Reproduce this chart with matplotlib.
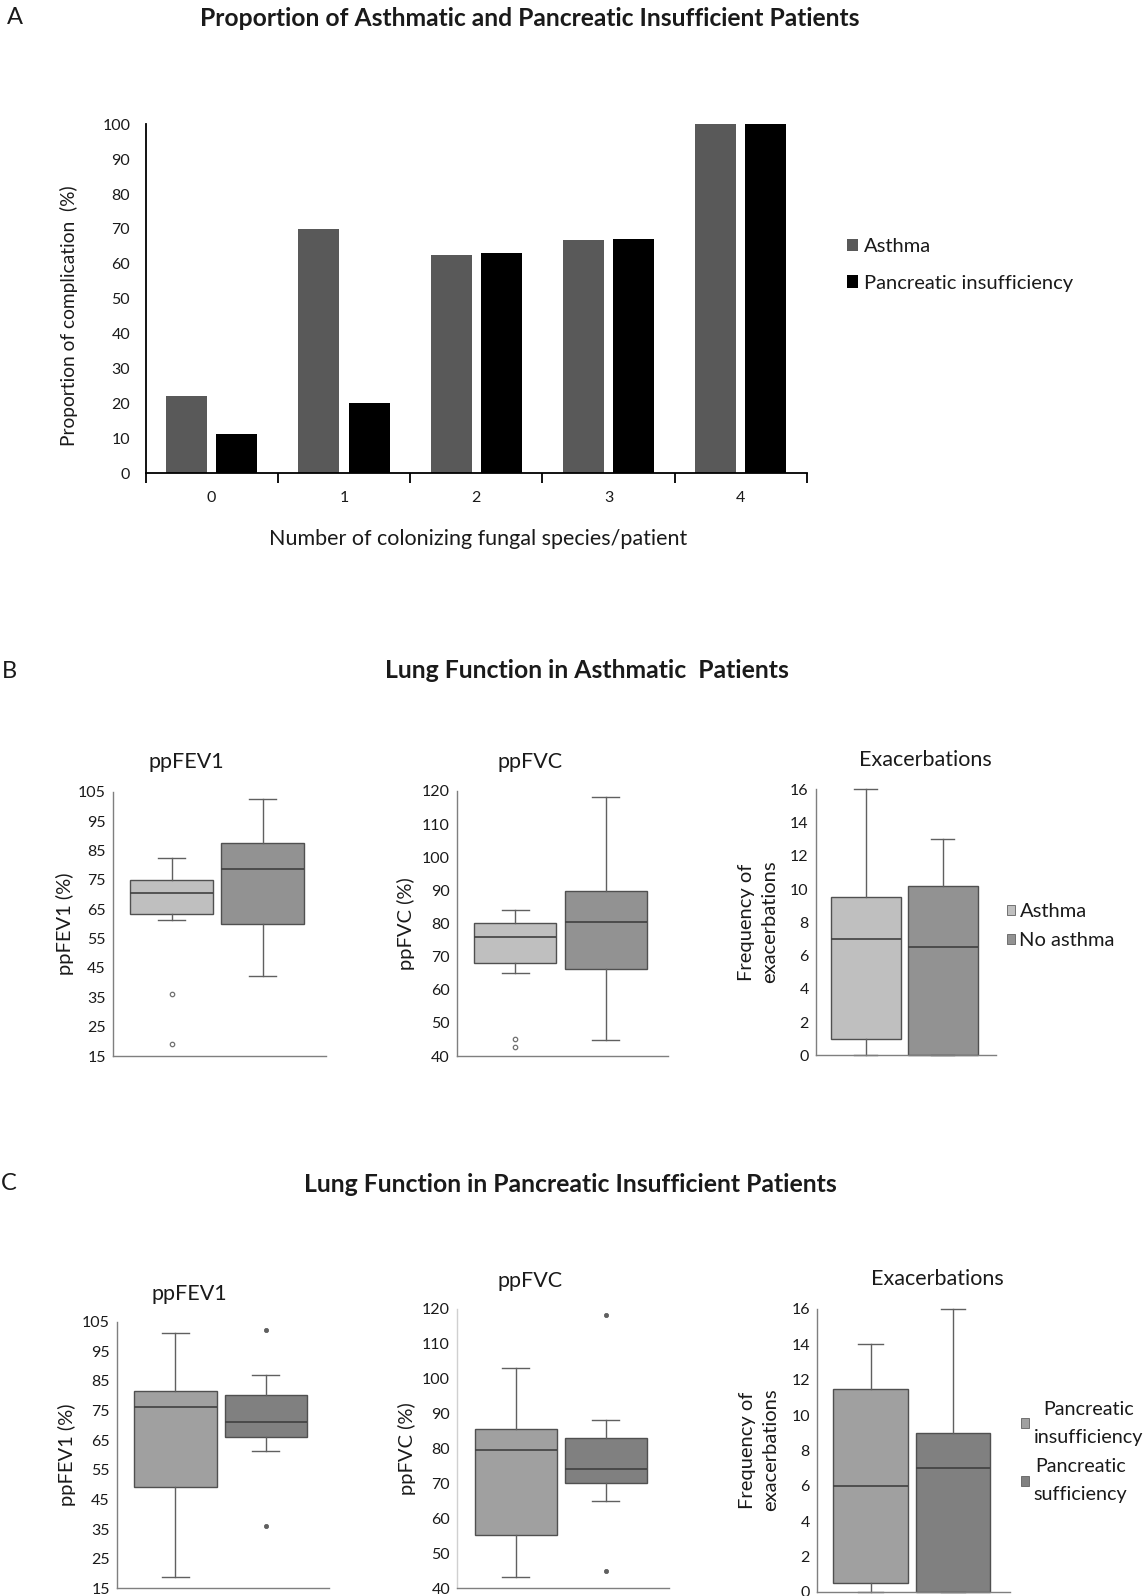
import numpy as np
import matplotlib
matplotlib.use("Agg")
import matplotlib.pyplot as plt
from matplotlib.patches import Patch

# ---------------- data ----------------
cats_A = ['0', '1', '2', '3', '4']
asthma_pct = [22, 70, 62.5, 66.7, 100]
pi_pct = [11.1, 20, 63, 67, 100]
series_A = ['Asthma', 'Pancreatic insufficiency']

# box stats: [whislo, q1, median, q3, whishi]
fev1_B_asthma = [61.4, 63.5, 70.4, 74.8, 82.5]
fev1_B_asthma_out = [36.1, 19.1]
fev1_B_noasthma = [42.1, 60.0, 78.6, 87.4, 102.6]
fev1_B_noasthma_out = []
fvc_B_asthma = [65.1, 68.2, 76.0, 80.0, 84.1]
fvc_B_asthma_out = [45.2, 42.8]
fvc_B_noasthma = [44.9, 66.4, 80.5, 89.9, 118.3]
fvc_B_noasthma_out = []
exac_B_asthma = [0, 1.0, 7.0, 9.5, 16.0]
exac_B_asthma_out = []
exac_B_noasthma = [0, 0, 6.5, 10.2, 13.0]
exac_B_noasthma_out = []
groups_B = ['Asthma', 'No asthma']

fev1_C_pi = [18.9, 49.1, 76.1, 81.6, 101.3]
fev1_C_pi_out = []
fev1_C_ps = [61.2, 66.2, 71.2, 80.4, 87.1]
fev1_C_ps_out = [102.3, 36.0]
fvc_C_pi = [43.1, 55.2, 79.6, 85.6, 103.2]
fvc_C_pi_out = []
fvc_C_ps = [65.1, 70.1, 74.1, 83.1, 88.1]
fvc_C_ps_out = [118.2, 45.0]
exac_C_pi = [0, 0.5, 6.0, 11.5, 14.0]
exac_C_pi_out = []
exac_C_ps = [0, 0, 7.0, 9.0, 16.0]
exac_C_ps_out = []
groups_C = ['Pancreatic\ninsufficiency', 'Pancreatic\nsufficiency']

fev1_ticks = list(range(15, 106, 10))
fvc_ticks = list(range(40, 121, 10))
exac_ticks = list(range(0, 17, 2))

# ---------------- layout helpers ----------------
W, H = 1148, 1596
plt.rcParams['font.family'] = ['Lato', 'DejaVu Sans']
TXT = '#1a1a1a'
fig = plt.figure(figsize=(W / 100, H / 100), dpi=100)
renderer = fig.canvas.get_renderer()


def add_ax(l, t, r, b):
    return fig.add_axes([l / W, 1 - b / H, (r - l) / W, (b - t) / H])


def ftext(x, y, s, **kw):
    kw.setdefault('color', TXT)
    return fig.text(x / W, 1 - y / H, s, **kw)


def fit(t, target_w):
    w = t.get_window_extent(renderer).width
    t.set_fontsize(t.get_fontsize() * target_w / w)


# ---------------- Panel A ----------------
ftext(15, 18, 'A', fontsize=17, ha='center', va='center')
tA = ftext(530, 18, 'Proportion of Asthmatic and Pancreatic Insufficient Patients',
           fontsize=15, fontweight='bold', ha='center', va='center')
fit(tA, 660)

axA = add_ax(145.5, 124.2, 807, 473.2)
x = np.arange(len(cats_A))
axA.bar(x - 0.19, asthma_pct, width=0.31, color='#595959', label=series_A[0])
axA.bar(x + 0.19, pi_pct, width=0.31, color='#000000', label=series_A[1])
axA.set_xlim(-0.5, len(cats_A) - 0.5)
axA.set_ylim(0, 100)
axA.set_yticks(range(0, 101, 10))
axA.tick_params(axis='y', length=0, pad=11, labelsize=11.5, labelcolor=TXT)
axA.set_xticks(x)
axA.set_xticklabels(cats_A)
axA.tick_params(axis='x', which='major', length=0, pad=13, labelsize=11.5, labelcolor=TXT)
axA.set_xticks(np.arange(-0.5, len(cats_A)), minor=True)
axA.tick_params(axis='x', which='minor', length=7, width=1.3, direction='out', color='#000000')
for s in ['top', 'right']:
    axA.spines[s].set_visible(False)
for s in ['left', 'bottom']:
    axA.spines[s].set_linewidth(1.3)
    axA.spines[s].set_color('#000000')

ftext(69, 316, 'Proportion of complication  (%)', fontsize=13.8, rotation=90,
      ha='center', va='center')
xl = ftext(478, 539, 'Number of colonizing fungal species/patient', fontsize=14,
           ha='center', va='center')
fit(xl, 420)

legA = fig.legend(handles=[Patch(facecolor='#595959', edgecolor='none', label=series_A[0]),
                           Patch(facecolor='#000000', edgecolor='none', label=series_A[1])],
                  loc='center left', bbox_to_anchor=(847 / W, 1 - 265 / H),
                  frameon=False, fontsize=14.5, handlelength=0.55, handleheight=0.55,
                  handletextpad=0.3, labelspacing=0.95, borderpad=0, borderaxespad=0)
for t in legA.get_texts():
    t.set_color(TXT)


# ---------------- box panels ----------------
def box_panel(rect, data, outs, colors, ylim, yticks, title, title_xy, ylabel, ylabel_xy,
              filled_fliers, left_spine='#7f7f7f', xlim=(0.35, 2.695)):
    ax = add_ax(*rect)
    stats = []
    for d, o in zip(data, outs):
        stats.append(dict(whislo=d[0], q1=d[1], med=d[2], q3=d[3], whishi=d[4], fliers=o))
    if filled_fliers:
        fp = dict(marker='o', markersize=3, markerfacecolor='#606060',
                  markeredgecolor='#606060', markeredgewidth=0.6, linestyle='none')
    else:
        fp = dict(marker='o', markersize=3.2, markerfacecolor='white',
                  markeredgecolor='#707070', markeredgewidth=0.9, linestyle='none')
    bp = ax.bxp(stats, positions=[1, 2], widths=0.91, patch_artist=True, showfliers=True,
                capwidths=0.3,
                boxprops=dict(edgecolor='#505050', linewidth=1.0),
                medianprops=dict(color='#404040', linewidth=1.2),
                whiskerprops=dict(color='#606060', linewidth=1.0),
                capprops=dict(color='#606060', linewidth=1.0),
                flierprops=fp)
    for patch, c in zip(bp['boxes'], colors):
        patch.set_facecolor(c)
    for key in ['whiskers', 'caps', 'medians', 'fliers']:
        for ln in bp[key]:
            ln.set_clip_on(False)
    for patch in bp['boxes']:
        patch.set_clip_on(False)
    ax.set_xlim(*xlim)
    ax.set_ylim(*ylim)
    ax.set_yticks(yticks)
    ax.set_xticks([])
    ax.tick_params(axis='y', length=0, pad=5, labelsize=11.5, labelcolor=TXT)
    for s in ['top', 'right']:
        ax.spines[s].set_visible(False)
    ax.spines['left'].set_color(left_spine)
    ax.spines['bottom'].set_color('#7f7f7f')
    for s in ['left', 'bottom']:
        ax.spines[s].set_linewidth(1.0)
    ftext(title_xy[0], title_xy[1], title, fontsize=15.5, ha='center', va='center')
    ftext(ylabel_xy[0], ylabel_xy[1], ylabel, fontsize=14.5, rotation=90,
          ha='center', va='center', multialignment='center', linespacing=1.4)
    return ax


# Panel B
ftext(9, 671, 'B', fontsize=17, ha='center', va='center')
tB = ftext(587, 671, 'Lung Function in Asthmatic  Patients', fontsize=15,
           fontweight='bold', ha='center', va='center')
fit(tB, 404)
colB = ['#bfbfbf', '#929292']
box_panel((112.7, 791.7, 325.7, 1056), [fev1_B_asthma, fev1_B_noasthma],
          [fev1_B_asthma_out, fev1_B_noasthma_out], colB, (15, 105), fev1_ticks,
          'ppFEV1', (186, 762), 'ppFEV1 (%)', (65, 924), False)
box_panel((456.7, 791, 668.3, 1056), [fvc_B_asthma, fvc_B_noasthma],
          [fvc_B_asthma_out, fvc_B_noasthma_out], colB, (40, 120), fvc_ticks,
          'ppFVC', (530, 762), 'ppFVC (%)', (406, 924), False)
box_panel((815.7, 789.3, 996, 1055.3), [exac_B_asthma, exac_B_noasthma],
          [exac_B_asthma_out, exac_B_noasthma_out], colB, (0, 16), exac_ticks,
          'Exacerbations', (925, 760), 'Frequency of\nexacerbations', (758, 922), False)
legB = fig.legend(handles=[Patch(facecolor=c, edgecolor='#606060', linewidth=0.6, label=g)
                           for c, g in zip(colB, groups_B)],
                  loc='center left', bbox_to_anchor=(1007 / W, 1 - 926 / H),
                  frameon=False, fontsize=14.5, handlelength=0.42, handleheight=0.42,
                  handletextpad=0.2, labelspacing=0.6, borderpad=0, borderaxespad=0)
for t in legB.get_texts():
    t.set_color(TXT)

# Panel C
ftext(9, 1184, 'C', fontsize=17, ha='center', va='center')
tC = ftext(570, 1184, 'Lung Function in Pancreatic Insufficient Patients', fontsize=15,
           fontweight='bold', ha='center', va='center')
fit(tC, 534)
colC = ['#a0a0a0', '#808080']
box_panel((116.7, 1321.7, 328.7, 1588.3), [fev1_C_pi, fev1_C_ps],
          [fev1_C_pi_out, fev1_C_ps_out], colC, (15, 105), fev1_ticks,
          'ppFEV1', (189, 1294), 'ppFEV1 (%)', (67, 1455), True)
box_panel((457, 1309, 668.7, 1588.3), [fvc_C_pi, fvc_C_ps],
          [fvc_C_pi_out, fvc_C_ps_out], colC, (40, 120), fvc_ticks,
          'ppFVC', (530, 1281), 'ppFVC (%)', (407, 1449), True, left_spine='#d0d0d0')
box_panel((816.8, 1309, 1010.4, 1591.9), [exac_C_pi, exac_C_ps],
          [exac_C_pi_out, exac_C_ps_out], colC, (0, 16), exac_ticks,
          'Exacerbations', (937, 1279), 'Frequency of\nexacerbations', (759, 1450), True,
          xlim=(0.343, 2.70))
legC = fig.legend(handles=[Patch(facecolor=c, edgecolor='#606060', linewidth=0.6, label=g)
                           for c, g in zip(colC, groups_C)],
                  loc='center left', bbox_to_anchor=(1021 / W, 1 - 1452 / H),
                  frameon=False, fontsize=14.2, handlelength=0.42, handleheight=0.42,
                  handletextpad=0.22, labelspacing=0.65, borderpad=0, borderaxespad=0)
for t in legC.get_texts():
    t.set_color(TXT)
    t.set_multialignment('center')
    t.set_linespacing(1.75)

fig.savefig('out.png', dpi=100, facecolor='white')
